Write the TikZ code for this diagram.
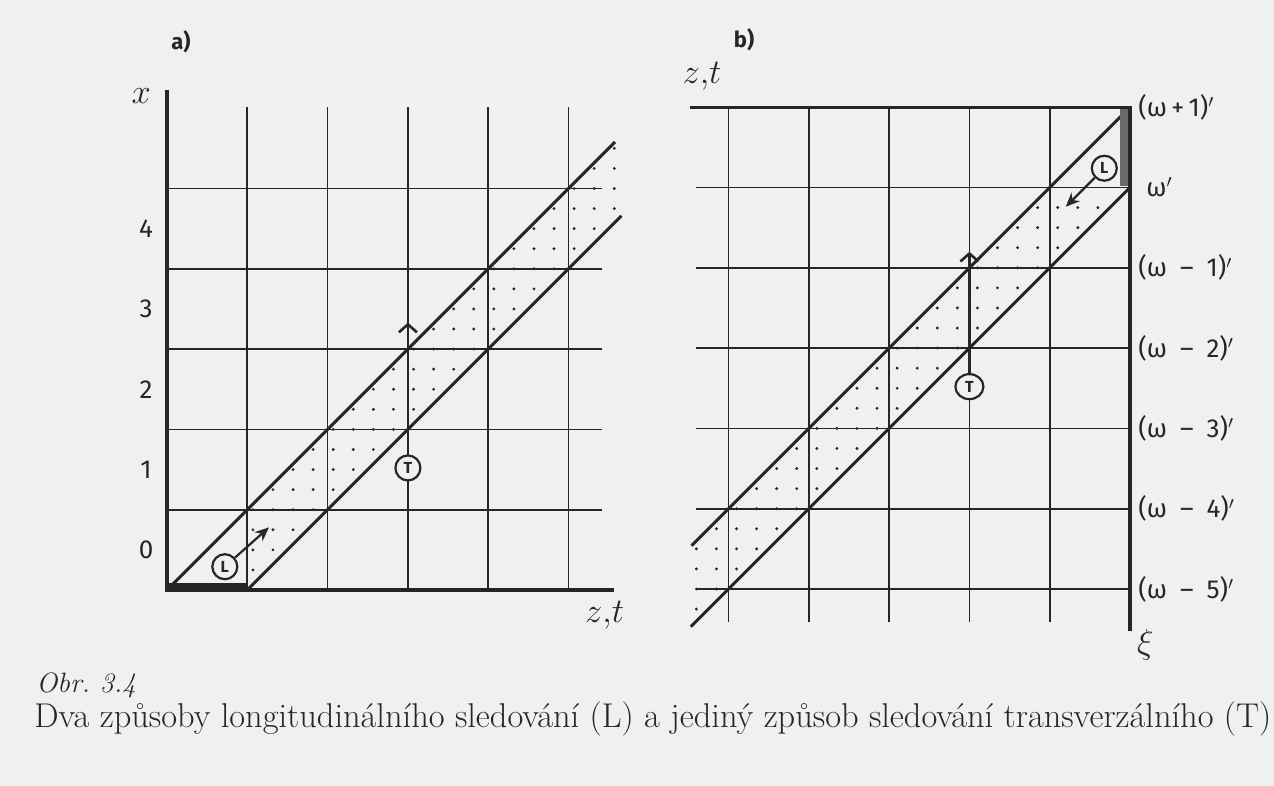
\documentclass[tikz,border=0pt]{standalone}
\usepackage{fontspec}
\newfontfamily\lab{Fira Sans}
\usetikzlibrary{arrows.meta,shapes.geometric}
\definecolor{bg}{RGB}{240,240,240}
\definecolor{ink}{RGB}{38,38,38}
\definecolor{barg}{RGB}{105,105,105}
\tikzset{
  gridline/.style={ink, line width=0.85pt},
  axisline/.style={ink, line width=1.6pt},
  diagline/.style={ink, line width=1.5pt},
  marker/.style={circle, draw=ink, line width=1.1pt, fill=bg, minimum size=12.5pt,
    inner sep=0pt, font=\lab\bfseries\fontsize{8}{8}\selectfont, text=ink},
  tarrow/.style={ink, line width=1.4pt, -{Straight Barb[length=4pt,width=9pt,line width=1.3pt]}},
  larrow/.style={ink, line width=1.1pt, -{Stealth[length=7pt,width=6pt]}},
  numlab/.style={font=\lab\fontsize{13}{13}\selectfont, text=ink, inner sep=0pt},
  omlab/.style={anchor=west, font=\lab\fontsize{13}{13}\selectfont, text=ink, inner sep=0pt},
  axlab/.style={font=\fontsize{17}{17}\selectfont, text=ink, inner sep=0pt},
  panlab/.style={font=\lab\bfseries\fontsize{11}{11}\selectfont, text=ink, inner sep=0pt},
  caplab/.style={anchor=base west, inner sep=0pt, text=ink},
}
\begin{document}
\begin{tikzpicture}[x=0.5pt,y=-0.5pt]
\path[use as bounding box, fill=bg] (0,0) rectangle (1274,786);

% ---------------- panel a ----------------
\begin{scope}[shift={(167,590)}, x=40.15pt, y=40.15pt]
  \foreach \k in {1,...,5} \draw[gridline] (\k,0) -- (\k,6.01);
  \foreach \k in {1,...,5} \draw[gridline] (0,\k) -- (5.42,\k);
  \foreach \j in {0,...,22} \foreach \d in {0.07,0.32,0.57,0.82} {
    \pgfmathsetmacro\xx{\j/4+\d}
    \pgfmathtruncatemacro\ok{and(\xx>1.02,\xx<5.6)}
    \ifnum\ok=1 \fill[ink] (\xx,\j/4) circle[radius=0.8pt]; \fi
  }
  \draw[diagline] (0,0) -- (5.58,5.58);
  \draw[diagline] (1,0) -- (5.66,4.66);
  \fill[ink] (0,-0.02) rectangle (1,0.09);
  \draw[axisline] (0,6.23) -- (0,0) -- (5.57,0);
  \node[marker] (L1) at (0.72,0.29) {L};
  \coordinate (L1tip) at (1.27,0.78);
  \draw[larrow] (L1) -- (L1tip);
  \node[marker] (T1) at (3,1.52) {T};
  \coordinate (T1tip) at (3,3.33);
  \draw[tarrow] (T1) -- (T1tip);
  \foreach \k in {0,...,4} \node[numlab] (n\k) at (-0.26,\k+0.5) {\k};
  \node[axlab] (xa) at (-0.32,6.15) {$x$};
  \node[axlab] (zta) at (5.45,-0.31) {$z{,}t$};
\end{scope}

% ---------------- panel b ----------------
\begin{scope}[shift={(1130,589)}, x=40.15pt, y=40.15pt]
  \foreach \k in {1,...,5} \draw[gridline] (-\k,6) -- (-\k,-0.41);
  \foreach \k in {0,...,5} \draw[gridline] (-5.40,\k) -- (0,\k);
  \foreach \j in {-2,...,23} \foreach \d in {0.1,0.35,0.6,0.85} {
    \pgfmathsetmacro\xx{\j/4-6+\d}
    \pgfmathtruncatemacro\ok{and(\xx>-5.42,or(\xx<-1,\j/4<4.9))}
    \ifnum\ok=1 \fill[ink] (\xx,\j/4) circle[radius=0.8pt]; \fi
  }
  \draw[diagline] (0,6) -- (-5.46,0.54);
  \draw[diagline] (0,5) -- (-5.47,-0.47);
  \fill[barg] (-0.13,5.02) rectangle (0,6);
  \draw[axisline] (-5.48,6) -- (0,6) -- (0,-0.52);
  \node[marker] (L2) at (-0.32,5.24) {L};
  \coordinate (L2tip) at (-0.80,4.76);
  \draw[larrow] (L2) -- (L2tip);
  \node[marker, ellipse, minimum width=14pt, minimum height=12.5pt] (T2) at (-2,2.52) {T};
  \coordinate (T2tip) at (-2,4.2);
  \draw[tarrow] (T2) -- (T2tip);
  \node[omlab] (w6) at (0.1,6) {(ω\,+\,1)$'$};
  \node[omlab] (w5) at (0.2,5) {ω$'$};
  \node[omlab] (w4) at (0.1,4) {(ω\enspace–\enspace1)$'$};
  \node[omlab] (w3) at (0.1,3) {(ω\enspace–\enspace2)$'$};
  \node[omlab] (w2) at (0.1,2) {(ω\enspace–\enspace3)$'$};
  \node[omlab] (w1) at (0.1,1) {(ω\enspace–\enspace4)$'$};
  \node[omlab] (w0) at (0.1,0) {(ω\enspace–\enspace5)$'$};
  \node[axlab] (xib) at (0.19,-0.70) {$\xi$};
  \node[axlab] (ztb) at (-5.33,6.38) {$z{,}t$};
\end{scope}

\node[panlab] (pa) at (181,42) {a)};
\node[panlab] (pb) at (744,40) {b)};

\node[caplab, font=\itshape\fontsize{14}{14}\selectfont] (obr) at (36,692) {Obr.\ 3.4};
\node[caplab, font=\fontsize{17.2}{17.2}\selectfont] (cap) at (34,727)
  {Dva způsoby longitudinálního sledování (L) a jediný způsob sledování transverzálního (T)};
\end{tikzpicture}
\end{document}
